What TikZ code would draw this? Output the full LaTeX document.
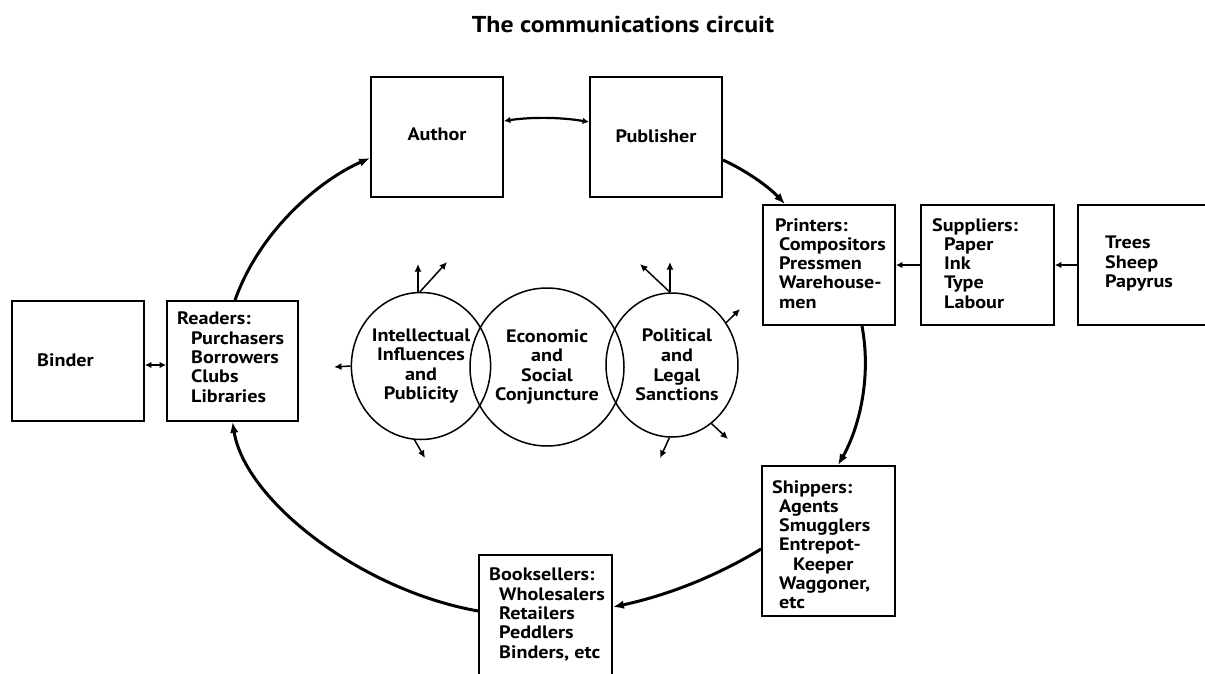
\documentclass[tikz,border=0pt]{standalone}
\usepackage{fontspec}
\setmainfont{PT Sans}[FakeStretch=1.12]
\usetikzlibrary{arrows.meta,shapes.geometric}
\begin{document}
\begin{tikzpicture}[x=1pt,y=-1pt,
  box/.style={draw, line width=1.8pt, rectangle, inner sep=0pt, minimum width=132pt, minimum height=120pt},
  txt/.style={font=\fontsize{18}{19.3}\selectfont\bfseries, align=left, inner sep=0pt, anchor=north west},
  ctxt/.style={font=\fontsize{18}{19.3}\selectfont\bfseries, inner sep=0pt},
  circ/.style={draw, ellipse, line width=1.5pt, inner sep=0pt, align=center, font=\fontsize{18}{19.6}\selectfont\bfseries},
  loop/.style={line width=3pt, -{Latex[length=11pt,width=8.5pt]}},
  small/.style={line width=1.5pt, -{Latex[length=7.5pt,width=7pt]}},
  dbl/.style={line width=1.8pt, {Latex[length=6.5pt,width=6.5pt]}-{Latex[length=6.5pt,width=6.5pt]}}
]
\useasboundingbox (0,0) rectangle (1205,673);
\fill[white] (0,0) rectangle (1205,673);

% title
\node[font=\fontsize{23}{26}\selectfont\bfseries, inner sep=0pt, anchor=base] (title) at (623,32) {The communications circuit};

% boxes
\node[box] (author) at (437,137) {};
\node[box] (publisher) at (656,137) {};
\node[box] (printers) at (829,265) {};
\node[box, minimum width=133pt] (suppliers) at (987.5,265) {};
\node[box, minimum width=140pt] (trees) at (1148,265) {};
\node[box, minimum width=133pt, minimum height=150pt] (shippers) at (828.5,541) {};
\node[box, minimum width=133pt, minimum height=134pt] (booksellers) at (545.5,622) {};
\node[box, minimum width=131pt] (readers) at (232.5,361) {};
\node[box] (binder) at (78,361) {};

% box texts
\node[ctxt] (authorT) at (437,134) {Author};
\node[ctxt] (publisherT) at (656,136) {Publisher};
\node[txt] (printersT) at (775,218) {Printers:\\\hspace*{4pt}Compositors\\\hspace*{4pt}Pressmen\\\hspace*{4pt}Warehouse-\\\hspace*{4pt}men};
\node[txt] (suppliersT) at (932,218) {Suppliers:\\\hspace*{12pt}Paper\\\hspace*{12pt}Ink\\\hspace*{12pt}Type\\\hspace*{12pt}Labour};
\node[txt] (treesT) at (1105,236) {Trees\\Sheep\\Papyrus};
\node[txt] (readersT) at (177,312) {Readers:\\\hspace*{14pt}Purchasers\\\hspace*{14pt}Borrowers\\\hspace*{14pt}Clubs\\\hspace*{14pt}Libraries};
\node[txt] (shippersT) at (772,480) {Shippers:\\\hspace*{7pt}Agents\\\hspace*{7pt}Smugglers\\\hspace*{7pt}Entrepot-\\\hspace*{21pt}Keeper\\\hspace*{7pt}Waggoner,\\\hspace*{7pt}etc};
\node[txt] (booksellersT) at (489,568) {Booksellers:\\\hspace*{10pt}Wholesalers\\\hspace*{10pt}Retailers\\\hspace*{10pt}Peddlers\\\hspace*{10pt}Binders, etc};
\node[ctxt, anchor=west] (binderT) at (37,360) {Binder};

% circles
\node[circ, minimum width=134pt, minimum height=147pt] (intel) at (421,366) {Intellectual\\Influences\\and\\Publicity};
\node[circ, minimum width=154pt, minimum height=158pt] (econ) at (547,367) {Economic\\and\\Social\\Conjuncture};
\node[circ, minimum width=132pt, minimum height=144pt] (polit) at (672,365) {\hspace*{10pt}Political\\\hspace*{10pt}and\\\hspace*{10pt}Legal\\\hspace*{10pt}Sanctions};

% free ends of the small arrows
\coordinate (i1) at (418,264);
\coordinate (i2) at (447,262);
\coordinate (i3) at (334,367);
\coordinate (i4) at (425,458);
\coordinate (p1) at (670,262);
\coordinate (p2) at (640,264);
\coordinate (p3) at (740,309);
\coordinate (p4) at (728,439);
\coordinate (p5) at (660,458);

\draw[small] ([xshift=-3pt]intel.north) -- (i1);
\draw[small] ([xshift=-1pt]intel.north) -- (i2);
\draw[small] (intel.west) -- (i3);
\draw[small] (intel.265) -- (i4);
\draw[small] ([xshift=-2pt]polit.north) -- (p1);
\draw[small] ([xshift=-2pt]polit.north) -- (p2);
\draw[small] (polit.38) -- (p3);
\draw[small] (polit.-56) -- (p4);
\draw[small] (polit.-92) -- (p5);

% side arrows
\draw[line width=1.8pt, -{Latex[length=6.5pt,width=6.5pt]}] (suppliers.west) -- (printers.east);
\draw[line width=1.8pt, -{Latex[length=6.5pt,width=6.5pt]}] (trees.west) -- (suppliers.east);
\draw[dbl] ([yshift=-4pt]binder.east) -- ([yshift=-4pt]readers.west);
\draw[dbl, line width=2.2pt] ([yshift=16pt]author.east) .. controls (530,117) and (560,117) .. ([yshift=15pt]publisher.west);

% main circuit
\draw[loop] ([xshift=2.5pt]readers.north) .. controls (260,230) and (320,180) .. ([yshift=-21pt]author.west);
\draw[loop] ([yshift=-23pt]publisher.east) .. controls (745,170) and (768,186) .. ([xshift=-44pt]printers.north);
\draw[loop] ([xshift=33pt]printers.south) .. controls (872,380) and (858,430) .. ([xshift=9.5pt]shippers.north);
\draw[loop] ([yshift=-8pt]shippers.west) .. controls (710,580) and (660,597) .. ([yshift=15pt]booksellers.east);
\draw[loop] ([yshift=11pt]booksellers.west) .. controls (360,590) and (245,500) .. (readers.south);
\end{tikzpicture}
\end{document}
